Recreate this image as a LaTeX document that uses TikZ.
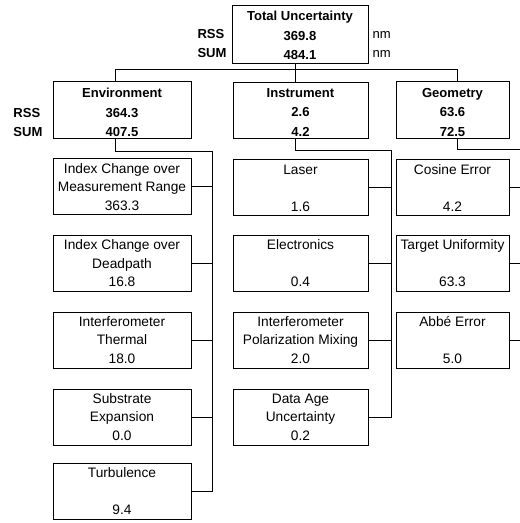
\documentclass[tikz,border=0pt]{standalone}
\usepackage{fontspec}
\setmainfont{Liberation Sans}
\begin{document}
\begin{tikzpicture}[x=0.75pt,y=-0.75pt,line width=0.75pt,
  hdrbox/.style={draw,inner sep=0pt},
  hdrtext/.style={inner sep=0pt,align=center,font=\fontsize{9.8}{14.6}\selectfont\bfseries},
  leafbox/.style={draw,inner sep=0pt,align=center,font=\fontsize{10.3}{13.9}\selectfont},
  envcol/.style={minimum width=103.5pt,minimum height=42pt},
  inscol/.style={minimum width=101.25pt,minimum height=42pt},
  geocol/.style={minimum width=84.75pt,minimum height=42pt},
  sidelab/.style={anchor=west,inner sep=0pt,font=\fontsize{9.8}{11}\selectfont\bfseries},
  unitlab/.style={anchor=west,inner sep=0pt,font=\fontsize{9.8}{11}\selectfont}]
\useasboundingbox (0,0) rectangle (519,523);
% header boxes
\node[hdrbox,minimum width=102pt,minimum height=43.5pt] (tot) at (300,34.5) {};
\node[hdrbox,minimum width=103.5pt,minimum height=42.75pt] (env) at (122,110.5) {};
\node[hdrbox,minimum width=101.25pt,minimum height=42pt] (ins) at (300.5,111) {};
\node[hdrbox,minimum width=84.75pt,minimum height=42.75pt] (geo) at (452.5,110.5) {};
\node[hdrtext] (tott) at (300,35.5) {Total Uncertainty\\369.8\\484.1};
\node[hdrtext] (envt) at (122,112.5) {Environment\\364.3\\407.5};
\node[hdrtext] (inst) at (300.5,112.5) {Instrument\\2.6\\4.2};
\node[hdrtext] (geot) at (452.5,112.5) {Geometry\\63.6\\72.5};
% side labels
\node[sidelab] (rss0) at (197,34) {RSS};
\node[sidelab] (sum0) at (197,53) {SUM};
\node[unitlab] (nm0) at (372,35) {nm};
\node[unitlab] (nm1) at (372,54) {nm};
\node[sidelab] (rss1) at (13,113) {RSS};
\node[sidelab] (sum1) at (13,132) {SUM};
% environment children
\node[leafbox,envcol] (e1) at (122,187) {Index Change over\\Measurement Range\\363.3};
\node[leafbox,envcol] (e2) at (122,263.5) {Index Change over\\Deadpath\\16.8};
\node[leafbox,envcol] (e3) at (122,340) {Interferometer\\Thermal\\18.0};
\node[leafbox,envcol] (e4) at (122,417) {Substrate\\Expansion\\0.0};
\node[leafbox,envcol] (e5) at (122,491) {Turbulence\\\mbox{}\\9.4};
% instrument children
\node[leafbox,inscol] (i1) at (300.5,188) {Laser\\\mbox{}\\1.6};
\node[leafbox,inscol] (i2) at (300.5,263.5) {Electronics\\\mbox{}\\0.4};
\node[leafbox,inscol] (i3) at (300.5,340) {Interferometer\\Polarization Mixing\\2.0};
\node[leafbox,inscol] (i4) at (300.5,417) {Data Age\\Uncertainty\\0.2};
% geometry children
\node[leafbox,geocol] (g1) at (452.5,188) {Cosine Error\\\mbox{}\\4.2};
\node[leafbox,geocol] (g2) at (452.5,263.5) {Target Uniformity\\\mbox{}\\63.3};
\node[leafbox,geocol] (g3) at (452.5,340) {Abb\'e Error\\\mbox{}\\5.0};
% routing coordinates
\coordinate (eX) at (115,0);
\coordinate (iX) at (295,0);
\coordinate (gX) at (457,0);
\coordinate (busY) at (0,70);
\coordinate (eV) at (212,152);
\coordinate (iV) at (391,151);
\coordinate (gV) at (521,150);
% top level connectors
\draw (env.north -| eX) -- (busY -| eX) -- (busY -| gX) -- (geo.north -| gX);
\draw (tot.south -| iX) -- (ins.north -| iX);
% environment branch
\draw (env.south -| eX) |- (eV) -- (eV |- e5.east) -- (e5.east);
\foreach \n in {e1,e2,e3,e4} \draw (\n.east) -- (\n.east -| eV);
% instrument branch
\draw (ins.south -| iX) |- (iV) -- (iV |- i4.east) -- (i4.east);
\foreach \n in {i1,i2,i3} \draw (\n.east) -- (\n.east -| iV);
% geometry branch
\draw (geo.south -| gX) |- (gV) -- (gV |- g3.east) -- (g3.east);
\foreach \n in {g1,g2} \draw (\n.east) -- (\n.east -| gV);
\end{tikzpicture}
\end{document}
